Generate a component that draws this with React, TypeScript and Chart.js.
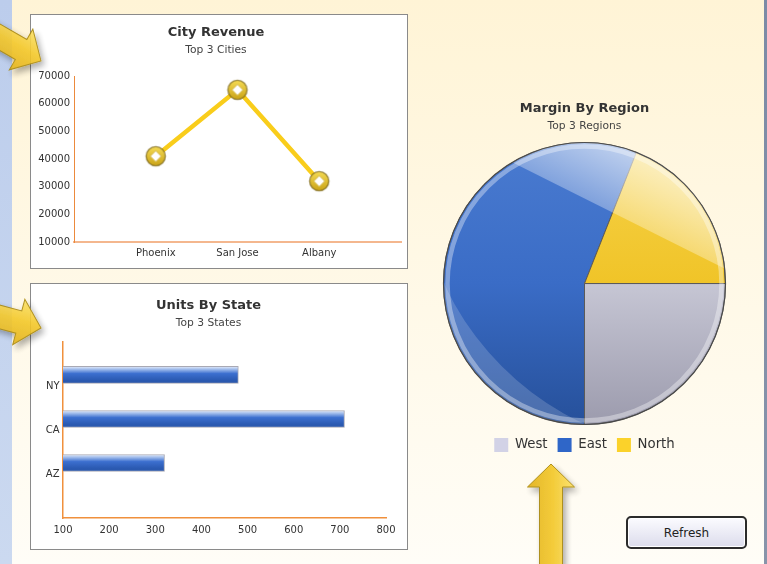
import React, { useEffect, useRef } from 'react';
import { Chart, registerables } from 'chart.js';

Chart.register(...registerables);

const FONT = "'DejaVu Sans', Verdana, sans-serif";

// ---- City Revenue (line) ----
const cityNames = ['Phoenix', 'San Jose', 'Albany'];
const cityRevenue = [41000, 65000, 32000];
const revenueMin = 10000;
const revenueMax = 70000;
const revenueStep = 10000;

// ---- Units By State (horizontal bar) ----
const stateNames = ['NY', 'CA', 'AZ'];
const stateUnits = [480, 710, 320];
const unitsMin = 100;
const unitsMax = 800;
const unitsStep = 100;

// ---- Margin By Region (pie) ----
const regionNames = ['West', 'East', 'North'];
const regionMargin = [25, 56, 19];
const regionColors = ['#d2d2e6', '#2f66c8', '#fbd22a'];

const PIE_RADIUS = 141;
const TICK_COLOR = '#333333';

function makeMarker(): HTMLCanvasElement {
  const c = document.createElement('canvas');
  c.width = 24;
  c.height = 24;
  const g = c.getContext('2d')!;
  const grad = g.createLinearGradient(0, 2, 0, 22);
  grad.addColorStop(0, '#f6dc55');
  grad.addColorStop(1, '#c9a216');
  g.beginPath();
  g.arc(12, 12, 9.6, 0, Math.PI * 2);
  g.fillStyle = grad;
  g.fill();
  g.lineWidth = 1.4;
  g.strokeStyle = 'rgba(125,105,30,0.75)';
  g.stroke();
  g.beginPath();
  g.moveTo(12, 6.5);
  g.lineTo(17.5, 12);
  g.lineTo(12, 17.5);
  g.lineTo(6.5, 12);
  g.closePath();
  g.fillStyle = '#ffffff';
  g.fill();
  g.lineWidth = 1;
  g.strokeStyle = '#d6b94a';
  g.stroke();
  return c;
}

function useChart(build: (canvas: HTMLCanvasElement) => Chart) {
  const ref = useRef<HTMLCanvasElement | null>(null);
  useEffect(() => {
    if (!ref.current) return;
    const chart = build(ref.current);
    return () => chart.destroy();
  }, []);
  return ref;
}

function LineChart() {
  const ref = useChart((canvas) => {
    const marker = makeMarker();
    return new Chart(canvas, {
      type: 'line',
      data: {
        datasets: [
          {
            data: cityRevenue.map((v, i) => ({ x: i + 1, y: v })),
            borderColor: '#f9cd1b',
            borderWidth: 4.5,
            pointStyle: marker as any,
            pointRadius: 10,
            tension: 0,
            fill: false,
          },
        ],
      },
      options: {
        animation: false,
        responsive: false,
        events: [],
        layout: { autoPadding: false, padding: { left: 0, right: 6, top: 0, bottom: 0 } },
        plugins: {
          legend: { display: false },
          tooltip: { enabled: false },
          title: {
            display: true,
            text: 'City Revenue',
            color: '#333',
            font: { family: FONT, size: 13, weight: 'bold' },
            padding: { top: 10, bottom: 0 },
          },
          subtitle: {
            display: true,
            text: 'Top 3 Cities',
            color: '#444',
            font: { family: FONT, size: 10.7 },
            padding: { top: 3, bottom: 19.56 },
          },
        },
        scales: {
          x: {
            type: 'linear',
            min: 0,
            max: cityNames.length + 1,
            grid: { display: false, drawTicks: false },
            border: { display: true, color: '#f4b78e', width: 2 },
            ticks: {
              stepSize: 1,
              padding: 5,
              autoSkip: false,
              maxRotation: 0,
              color: TICK_COLOR,
              font: { family: FONT, size: 10 },
              callback: (v: any) => cityNames[Number(v) - 1] ?? '',
            },
            afterFit: (s: any) => {
              s.height = 26;
              s.paddingLeft = 0;
              s.paddingRight = 0;
            },
          },
          y: {
            min: revenueMin,
            max: revenueMax,
            grid: { display: false, drawTicks: false },
            border: { display: true, color: '#ec8a3c', width: 1 },
            ticks: {
              stepSize: revenueStep,
              padding: 4,
              color: TICK_COLOR,
              font: { family: FONT, size: 10 },
              callback: (v: any) => String(v),
            },
            afterFit: (s: any) => {
              s.width = 43;
            },
          },
        },
      },
    } as any);
  });
  return <canvas ref={ref} width={376} height={253} style={{ display: 'block', width: 376, height: 253 }} />;
}

function BarChart() {
  const ref = useChart((canvas) => {
    return new Chart(canvas, {
      type: 'bar',
      data: {
        datasets: [
          {
            data: stateUnits.map((v, i) => ({ x: v, y: stateNames.length - i })),
            backgroundColor: (c: any) => {
              const chart = c.chart;
              const s = chart.scales && chart.scales.y;
              if (c.type !== 'data' || !s || !chart.chartArea) return '#2f62b8';
              const yc = s.getPixelForValue(c.raw.y);
              const g = chart.ctx.createLinearGradient(0, yc - 8.5, 0, yc + 8.5);
              g.addColorStop(0, '#e4ecfa');
              g.addColorStop(0.18, '#9bb8ea');
              g.addColorStop(0.42, '#3c6fcf');
              g.addColorStop(0.8, '#2b5ab2');
              g.addColorStop(1, '#2a57ab');
              return g;
            },
            borderColor: '#a9a9b4',
            borderWidth: 1,
            borderSkipped: false,
            barThickness: 17,
          },
        ],
      },
      options: {
        indexAxis: 'y',
        animation: false,
        responsive: false,
        events: [],
        layout: { autoPadding: false, padding: { left: 0, right: 21, top: 0, bottom: 0 } },
        plugins: {
          legend: { display: false },
          tooltip: { enabled: false },
          title: {
            display: true,
            text: 'Units By State',
            color: '#333',
            font: { family: FONT, size: 13, weight: 'bold' },
            padding: { top: 13.7, bottom: 0 },
          },
          subtitle: {
            display: true,
            text: 'Top 3 States',
            color: '#444',
            font: { family: FONT, size: 10.7 },
            padding: { top: 3.8, bottom: 12 },
          },
        },
        scales: {
          x: {
            type: 'linear',
            min: unitsMin,
            max: unitsMax,
            grid: { display: false, drawTicks: false },
            border: { display: true, color: '#f0903c', width: 1.5 },
            ticks: {
              stepSize: unitsStep,
              padding: 6,
              color: TICK_COLOR,
              font: { family: FONT, size: 10 },
              callback: (v: any) => String(v),
            },
            afterFit: (s: any) => {
              s.height = 31;
            },
          },
          y: {
            type: 'linear',
            offset: false,
            min: -0.25,
            max: stateNames.length + 0.75,
            grid: { display: false, drawTicks: false, offset: false },
            border: { display: true, color: '#f0903c', width: 1.5 },
            afterBuildTicks: (s: any) => {
              s.ticks = stateNames.map((_, i) => ({ value: i + 1 }));
            },
            ticks: {
              padding: 3.5,
              labelOffset: 11,
              color: TICK_COLOR,
              font: { family: FONT, size: 10 },
              callback: (v: any) => stateNames[stateNames.length - Number(v)] ?? '',
            },
            afterFit: (s: any) => {
              s.width = 32;
            },
          },
        },
      },
    } as any);
  });
  return <canvas ref={ref} width={376} height={265} style={{ display: 'block', width: 376, height: 265 }} />;
}

const pieGloss = {
  id: 'pieGloss',
  afterDatasetsDraw(chart: any) {
    const meta = chart.getDatasetMeta(0);
    const arc = meta.data[0];
    if (!arc) return;
    const cx = arc.x;
    const cy = arc.y;
    const r = arc.outerRadius;
    const ctx = chart.ctx;
    ctx.save();
    ctx.beginPath();
    ctx.arc(cx, cy, r, 0, Math.PI * 2);
    ctx.clip();

    // upper-right highlight above a slanted line
    const nx = 0.447;
    const ny = -0.894;
    const tx = 0.894;
    const ty = 0.447;
    const d0 = 0.54 * r;
    const px = cx + nx * d0;
    const py = cy + ny * d0;
    const big = 2 * r;
    ctx.beginPath();
    ctx.moveTo(px - tx * big, py - ty * big);
    ctx.lineTo(px + tx * big, py + ty * big);
    ctx.lineTo(px + tx * big + nx * big, py + ty * big + ny * big);
    ctx.lineTo(px - tx * big + nx * big, py - ty * big + ny * big);
    ctx.closePath();
    const hg = ctx.createLinearGradient(px, py, cx + nx * r, cy + ny * r);
    hg.addColorStop(0, 'rgba(255,255,255,0.32)');
    hg.addColorStop(1, 'rgba(255,255,255,0.66)');
    ctx.fillStyle = hg;
    ctx.fill();

    // lower-left crescent
    const s = 0.15 * r;
    ctx.beginPath();
    ctx.arc(cx, cy, r, 0, Math.PI * 2);
    ctx.closePath();
    const ex = cx + s * 0.707;
    const ey = cy - s * 0.707;
    const rx = 1.43 * r;
    const ry = 0.98 * r;
    ctx.moveTo(ex + rx * Math.cos(Math.PI / 4), ey + rx * Math.sin(Math.PI / 4));
    ctx.ellipse(ex, ey, rx, ry, Math.PI / 4, 0, Math.PI * 2);
    ctx.fillStyle = 'rgba(255,255,255,0.17)';
    ctx.fill('evenodd');

    // rim
    ctx.beginPath();
    ctx.arc(cx, cy, r - 4, 0, Math.PI * 2);
    ctx.lineWidth = 4.5;
    ctx.strokeStyle = 'rgba(255,255,255,0.36)';
    ctx.stroke();
    ctx.restore();

    ctx.save();
    ctx.beginPath();
    ctx.arc(cx, cy, r, 0, Math.PI * 2);
    ctx.lineWidth = 1.2;
    ctx.strokeStyle = 'rgba(70,70,70,0.9)';
    ctx.stroke();
    ctx.restore();
  },
};

const pieStops = [
  ['#e0e0ea', '#c6c6d4', '#9c9bad'],
  ['#4a7bd0', '#3a6cc6', '#26509a'],
  ['#f6d24a', '#f0c428', '#e0b020'],
];

function PieChart() {
  const ref = useChart((canvas) => {
    return new Chart(canvas, {
      type: 'pie',
      data: {
        labels: regionNames,
        datasets: [
          {
            data: regionMargin,
            backgroundColor: (c: any) => {
              const chart = c.chart;
              const ca = chart.chartArea;
              const i = c.dataIndex ?? 0;
              if (!ca) return regionColors[i];
              const cy = (ca.top + ca.bottom) / 2;
              const g = chart.ctx.createLinearGradient(0, cy - PIE_RADIUS, 0, cy + PIE_RADIUS);
              const st = pieStops[i];
              g.addColorStop(0, st[0]);
              g.addColorStop(0.5, st[1]);
              g.addColorStop(1, st[2]);
              return g;
            },
            borderColor: '#5a5a5a',
            borderWidth: 1,
            radius: PIE_RADIUS,
          },
        ],
      },
      options: {
        animation: false,
        responsive: false,
        events: [],
        rotation: 90,
        layout: { padding: { top: 0, bottom: 2, left: 0, right: 0 } },
        plugins: {
          tooltip: { enabled: false },
          title: {
            display: true,
            text: 'Margin By Region',
            color: '#333',
            font: { family: FONT, size: 13, weight: 'bold' },
            padding: { top: 11.2, bottom: 0 },
          },
          subtitle: {
            display: true,
            text: 'Top 3 Regions',
            color: '#444',
            font: { family: FONT, size: 10.7 },
            padding: { top: 2.8, bottom: 8.6 },
          },
          legend: {
            position: 'bottom',
            title: { display: true, text: '', padding: { top: 1, bottom: 0 }, font: { size: 1, lineHeight: 1 } },
            labels: {
              boxWidth: 14,
              boxHeight: 14,
              padding: 10,
              color: '#333',
              font: { family: FONT, size: 13.3 },
              generateLabels: () =>
                regionNames.map((n, i) => ({
                  text: n,
                  fillStyle: regionColors[i],
                  strokeStyle: 'rgba(0,0,0,0)',
                  lineWidth: 0,
                  hidden: false,
                  index: i,
                  datasetIndex: 0,
                  fontColor: '#333',
                })),
            },
          },
        },
      },
      plugins: [pieGloss],
    } as any);
  });
  return <canvas ref={ref} width={329} height={374} style={{ display: 'block', width: 329, height: 374 }} />;
}

const ARROW = '0,0 -23,-23.5 -23,-11.5 -130,-11.5 -130,11.5 -23,11.5 -23,23.5';

function Arrows() {
  return (
    <svg width={767} height={564} style={{ position: 'absolute', left: 0, top: 0, pointerEvents: 'none' }}>
      <defs>
        <linearGradient id="arrowFill" x1="0" y1="0" x2="0" y2="1">
          <stop offset="0" stopColor="#fbe068" />
          <stop offset="0.45" stopColor="#f3c82a" />
          <stop offset="1" stopColor="#e2b01a" />
        </linearGradient>
        <linearGradient id="arrowFillV" x1="0" y1="0" x2="0" y2="1">
          <stop offset="0" stopColor="#e2b01a" />
          <stop offset="0.55" stopColor="#f3c82a" />
          <stop offset="1" stopColor="#fbe068" />
        </linearGradient>
        <filter id="arrowShadow" x="-50%" y="-50%" width="200%" height="200%">
          <feDropShadow dx="3" dy="4" stdDeviation="3" floodColor="#000" floodOpacity="0.35" />
        </filter>
      </defs>
      <g filter="url(#arrowShadow)" opacity={0.9}>
        <g transform="translate(41,61) rotate(30)">
          <polygon points={ARROW} fill="url(#arrowFill)" stroke="#a8870c" strokeWidth={1} />
        </g>
      </g>
      <g filter="url(#arrowShadow)" opacity={0.9}>
        <g transform="translate(41,328) rotate(15)">
          <polygon points={ARROW} fill="url(#arrowFill)" stroke="#a8870c" strokeWidth={1} />
        </g>
      </g>
      <g filter="url(#arrowShadow)" opacity={0.92}>
        <g transform="translate(551,464) rotate(-90)">
          <polygon points={ARROW} fill="url(#arrowFillV)" stroke="#a8870c" strokeWidth={1} />
        </g>
      </g>
    </svg>
  );
}

export default function App() {
  useEffect(() => {
    document.body.style.margin = '0';
  }, []);
  const box: React.CSSProperties = {
    position: 'absolute',
    background: '#ffffff',
    border: '1px solid #8a8a8a',
  };
  return (
    <div style={{ position: 'absolute', left: 0, top: 0, width: 767, height: 564, overflow: 'hidden', fontFamily: FONT }}>
      <div style={{ position: 'absolute', left: 0, top: 0, width: 12, height: 564, background: 'linear-gradient(#bccdec, #cbd9f0)' }} />
      <div style={{ position: 'absolute', left: 12, top: 0, width: 752, height: 564, background: 'linear-gradient(#fff4d6, #fffdf7)' }} />
      <div style={{ position: 'absolute', left: 764, top: 0, width: 3, height: 564, background: 'linear-gradient(#7c8ba6, #8894aa)' }} />
      <div style={{ ...box, left: 30, top: 14, width: 376, height: 253 }}>
        <LineChart />
      </div>
      <div style={{ ...box, left: 30, top: 283, width: 376, height: 265 }}>
        <BarChart />
      </div>
      <div style={{ position: 'absolute', left: 420, top: 90, width: 329, height: 374 }}>
        <PieChart />
      </div>
      <button
        style={{
          position: 'absolute',
          left: 626,
          top: 516,
          width: 121,
          height: 33,
          boxSizing: 'border-box',
          border: '2px solid #2b2b2b',
          borderRadius: 5,
          background: 'linear-gradient(#fbfbff, #dcdcec)',
          boxShadow: 'inset 0 0 0 1px #ffffff',
          font: `12px ${FONT}`,
          color: '#222',
          padding: 0,
        }}
      >
        Refresh
      </button>
      <Arrows />
    </div>
  );
}
